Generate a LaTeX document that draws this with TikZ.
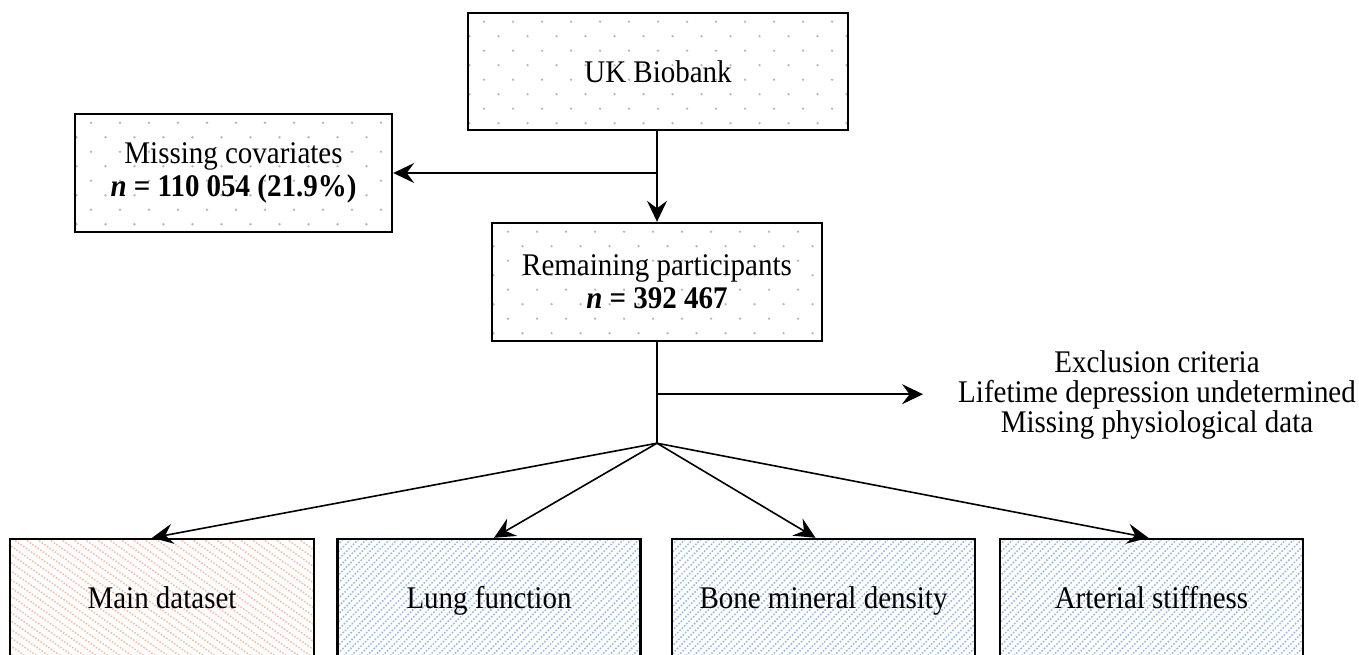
\documentclass[tikz,border=0pt]{standalone}
\usepackage{fontspec}
\setmainfont{Liberation Serif}[FakeStretch=0.92]
\usetikzlibrary{arrows.meta,calc}
\definecolor{dotgray}{RGB}{185,185,185}
\definecolor{hatchor}{RGB}{243,190,165}
\definecolor{hatchbl}{RGB}{150,186,228}
\begin{document}
\begin{tikzpicture}[x=1pt,y=-1pt,
  basebox/.style={draw=black, line width=2.4pt, rectangle, inner sep=0pt,
    font=\fontsize{31.5}{33}\selectfont},
  box/.style={basebox, align=center},
  dotfill/.style={path picture={
    \foreach \r in {0,...,8}{
      \foreach \c in {-1,...,14}{
        \fill[dotgray] ($(path picture bounding box.north west)+({16+\c*29+mod(\r,2)*14.5},{8.7+\r*14.5})$) circle[radius=1.3pt];
      }}}},
  orfill/.style={path picture={
    \foreach \k in {-16,...,27}{
      \draw[hatchor, line width=1.5pt, dash pattern=on 1.6pt off 1.6pt]
        ($(path picture bounding box.north west)+(\k*11.9,-2)$) -- ++(220,154);
      }}},
  blfill/.style={path picture={
    \foreach \k in {0,...,56}{
      \draw[hatchbl, line width=1.5pt, dash pattern=on 1.6pt off 1.6pt]
        ($(path picture bounding box.north west)+(\k*7.8,-2)$) -- ++(-160,160);
      }}},
  dotbox/.style={box, dotfill},
  lowbox/.style={basebox, text height=23pt, text depth=6pt, minimum height=121pt},
  orbox/.style={lowbox, orfill, minimum width=304pt},
  blbox/.style={lowbox, blfill, minimum width=303pt},
  conn/.style={line width=1.6pt, draw=black},
  arr/.style={conn, -{Stealth[length=21pt,width=20pt,inset=7.5pt]}},
]
\clip (0,0) rectangle (1359,654);
\fill[white] (0,0) rectangle (1359,654);

\node[dotbox, minimum width=380pt, minimum height=117pt] (uk) at (658,71.5) {UK Biobank};
\node[dotbox, minimum width=317pt, minimum height=118pt] (miss) at (233.5,173)
  {Missing covariates\\\textbf{\textit{n} = 110 054 (21.9\%)}};
\node[dotbox, minimum width=330pt, minimum height=118pt] (rem) at (657,282)
  {Remaining participants\\\textbf{\textit{n} = 392 467}};

\node[font=\fontsize{31.5}{30}\selectfont, align=center, inner sep=0pt] (excl) at (1157,395)
  {Exclusion criteria\\Lifetime depression undetermined\\Missing physiological data};

\node[orbox] (main) at (162,599.5) {Main dataset};
\node[blbox] (lung) at (489,599.5) {Lung function};
\node[blbox] (bone) at (823.5,599.5) {Bone mineral density};
\node[blbox] (art) at (1151.5,599.5) {Arterial stiffness};

\coordinate (j1) at (rem.north |- miss.east);
\coordinate (j2) at ($(rem.south)+(0,52)$);
\coordinate (fan) at ($(rem.south)+(0,101)$);
\coordinate (exin) at ($(excl.west)+(-35,0)$);

\draw[arr] (uk.south -| rem.north) -- (rem.north);
\draw[arr] (j1) -- (miss.east);
\draw[conn] (rem.south) -- (fan);
\draw[arr] (j2) -- (j2 -| exin);
\draw[arr] (fan) -- ([xshift=-10pt]main.north);
\draw[arr] (fan) -- ([xshift=5pt]lung.north);
\draw[arr] (fan) -- ([xshift=-8pt]bone.north);
\draw[arr] (fan) -- ([xshift=-3pt]art.north);
\end{tikzpicture}
\end{document}
